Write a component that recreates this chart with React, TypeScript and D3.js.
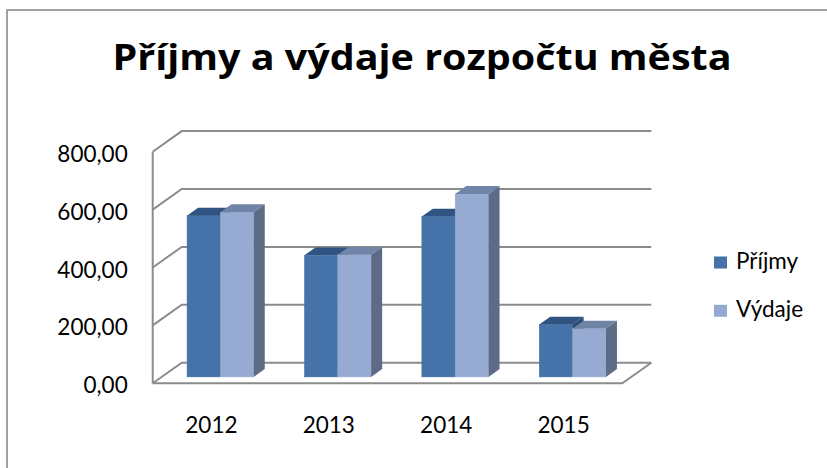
import React from "react";
import * as d3 from "d3";

const categories = ["2012", "2013", "2014", "2015"];
const seriesNames = ["Příjmy", "Výdaje"];
const prijmy = [557, 420, 554, 181];
const vydaje = [569, 422, 632, 167];
const yTicks = [0, 200, 400, 600, 800];
const title = "Příjmy a výdaje rozpočtu města";

const W = 827;
const H = 468;
const FONT = "Lato, 'Open Sans', sans-serif";
const TITLE_FONT = "'Open Sans', Lato, sans-serif";
const GRID = "#8c8c8c";

// 3D depth vector of the plot box
const DX = 29;
const DY = -20.6;
const T0 = 0.31; // bar front depth fraction
const T1 = 0.69; // bar back depth fraction

const colors = {
  "Příjmy": { front: "#4572a8", top: "#2f5482", side: "#2d4b70", legend: "#4572a7" },
  "Výdaje": { front: "#97abd2", top: "#6f84a6", side: "#5d6b87", legend: "#94a9d0" },
};

export default function App() {
  const x0 = d3
    .scaleBand<string>()
    .domain(categories)
    .range([152.7, 622.3])
    .paddingInner(0.432)
    .paddingOuter(0.216);
  const x1 = d3.scaleBand<string>().domain(seriesNames).range([0, x0.bandwidth()]);
  const y = d3.scaleLinear().domain([0, 800]).range([383.3, 151.7]);
  const fmt = (v: number) => d3.format(".2f")(v).replace(".", ",");

  const [xl, xr] = x0.range();
  const seriesData: Record<string, number[]> = { "Příjmy": prijmy, "Výdaje": vydaje };

  const pts = (arr: [number, number][]) => arr.map((p) => p.join(",")).join(" ");

  return (
    <svg
      width={W}
      height={H}
      style={{ position: "absolute", left: 0, top: 0, background: "#fff" }}
      fontFamily={FONT}
    >
      <rect x={7} y={10} width={1000} height={1000} fill="#fff" stroke="#8a8a8a" strokeWidth={1.6} />
      <text
        x={422}
        y={69.5}
        textAnchor="middle"
        fontSize={36}
        fontWeight="bold"
        fontFamily={TITLE_FONT}
        fill="#000"
        textLength={619}
        lengthAdjust="spacingAndGlyphs"
      >
        {title}
      </text>

      {/* walls and gridlines */}
      <g stroke={GRID} strokeWidth={2} fill="none">
        {yTicks.map((t) => (
          <polyline
            key={"g" + t}
            points={pts([
              [xl, y(t)],
              [xl + DX, y(t) + DY],
              [xr + DX, y(t) + DY],
            ])}
          />
        ))}
        <line x1={xl} y1={y(800)} x2={xl} y2={y(0)} />
        <polyline
          points={pts([
            [xl, y(0)],
            [xr, y(0)],
            [xr + DX, y(0) + DY],
          ])}
        />
      </g>

      {/* bars */}
      {categories.map((c, i) => (
        <g key={c}>
          {seriesNames.map((s) => {
            const v = seriesData[s][i];
            const bx = (x0(c) as number) + (x1(s) as number) + T0 * DX;
            const bw = x1.bandwidth();
            const yb = y(0) + T0 * DY;
            const yt = y(v) + T0 * DY;
            const ddx = (T1 - T0) * DX;
            const ddy = (T1 - T0) * DY;
            const col = (colors as any)[s];
            return (
              <g key={s}>
                <rect x={bx} y={yt} width={bw} height={yb - yt} fill={col.front} stroke={col.front} strokeWidth={0.5} />
                <polygon
                  points={pts([
                    [bx, yt],
                    [bx + ddx, yt + ddy],
                    [bx + bw + ddx, yt + ddy],
                    [bx + bw, yt],
                  ])}
                  fill={col.top}
                />
                <polygon
                  points={pts([
                    [bx + bw, yt],
                    [bx + bw + ddx, yt + ddy],
                    [bx + bw + ddx, yb + ddy],
                    [bx + bw, yb],
                  ])}
                  fill={col.side}
                />
              </g>
            );
          })}
        </g>
      ))}

      {/* y axis labels */}
      {yTicks.map((t) => (
        <text key={"y" + t} x={127.7} y={y(t) + 10} textAnchor="end" fontSize={22.5} fill="#000">
          {fmt(t)}
        </text>
      ))}

      {/* x axis labels */}
      {categories.map((c) => (
        <text
          key={"x" + c}
          x={(x0(c) as number) + x0.bandwidth() / 2}
          y={433}
          textAnchor="middle"
          fontSize={22.5}
          fill="#000"
        >
          {c}
        </text>
      ))}

      {/* legend */}
      {seriesNames.map((s, i) => (
        <g key={"l" + s} transform={`translate(714, ${256.5 + i * 48.3})`}>
          <rect x={0} y={0} width={13} height={12} fill={(colors as any)[s].legend} />
          <text x={22} y={12} fontSize={22.5} fill="#000">
            {s}
          </text>
        </g>
      ))}
    </svg>
  );
}
